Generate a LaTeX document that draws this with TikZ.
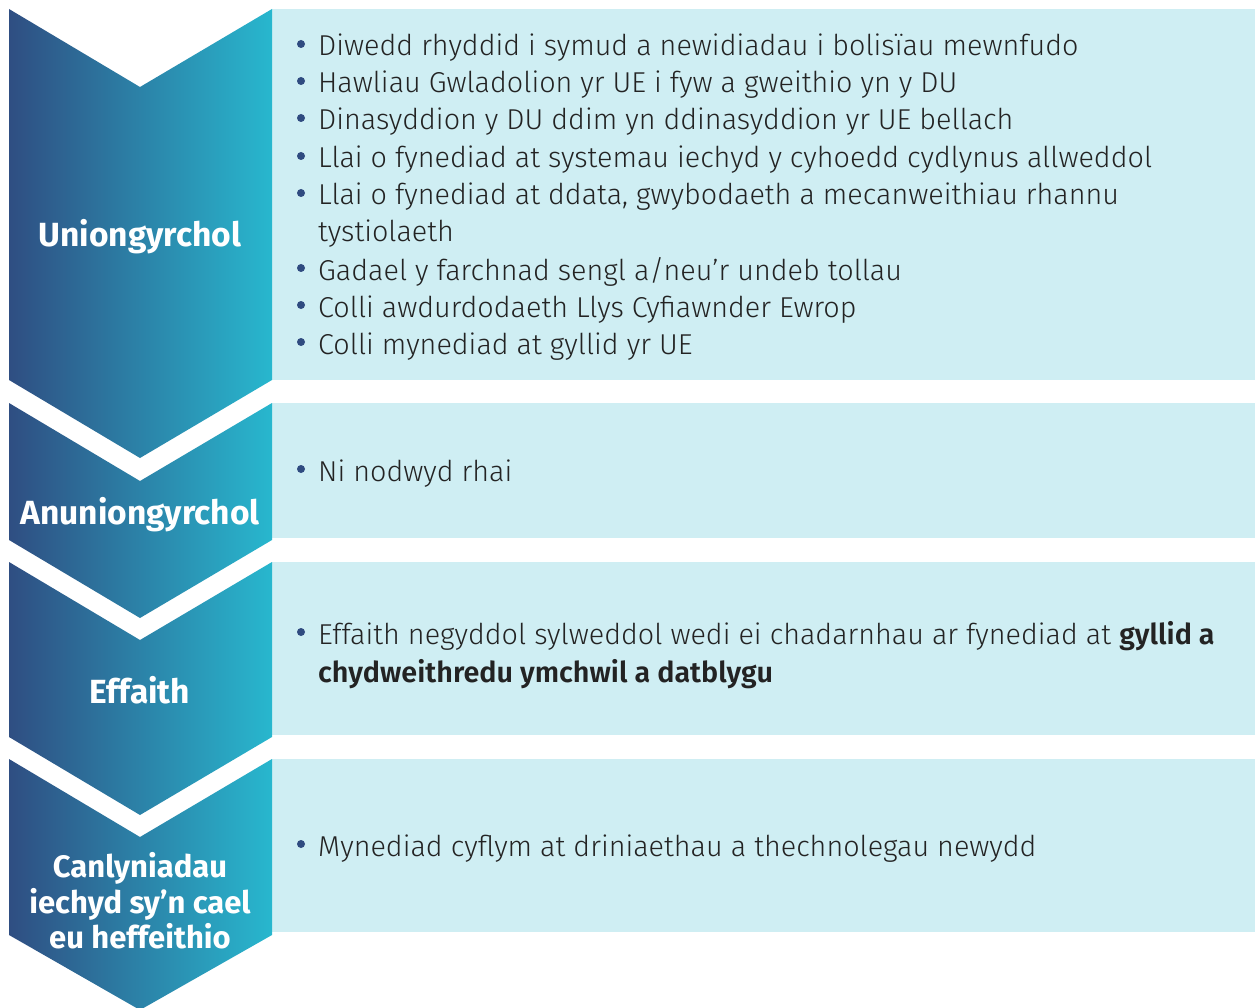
\documentclass[tikz,border=0pt]{standalone}
\usepackage{fontspec}
\setmainfont{Fira Sans Light}[BoldFont=Fira Sans SemiBold]
\newfontfamily\ttlfont{Fira Sans}
\definecolor{navy}{RGB}{47,78,130}
\definecolor{tealc}{RGB}{40,183,206}
\definecolor{pale}{RGB}{207,238,243}
\definecolor{ink}{RGB}{35,35,35}
\definecolor{bulc}{RGB}{47,75,128}
\begin{document}
\begin{tikzpicture}[x=1pt,y=-1pt,
  chev/.style={left color=navy,right color=tealc,draw=none},
  panel/.style={fill=pale,draw=none},
  ttl/.style={text=white,font=\ttlfont\fontsize{33.5}{35}\selectfont\bfseries,anchor=base,inner sep=0pt,align=center},
  body/.style={text=ink,font=\fontsize{28.75}{37}\selectfont,anchor=base west,inner sep=0pt},
  bul/.style={circle,fill=bulc,inner sep=0pt,minimum size=8pt}]
\useasboundingbox (0,0) rectangle (1255,1008);
\newcommand\bitem[3]{\node[bul] (b#1) at (301,#2-12) {};\node[body] (t#1) at (318,#2) {#3};}
% panels
\fill[panel] (272,9) rectangle (1255,380);
\fill[panel] (272,403) rectangle (1255,538);
\fill[panel] (272,562) rectangle (1255,735);
\fill[panel] (272,759) rectangle (1255,932);
% chevrons
\path[chev] (9,9) -- (140,87) -- (272,9) -- (272,380) -- (140,458) -- (9,380) -- cycle;
\path[chev] (9,403) -- (140,481) -- (272,403) -- (272,540) -- (140,618) -- (9,540) -- cycle;
\path[chev] (9,562) -- (140,640) -- (272,562) -- (272,737) -- (140,815) -- (9,737) -- cycle;
\path[chev] (9,759) -- (140,837) -- (272,759) -- (272,935) -- (140,1010) -- (9,935) -- cycle;
% titles
\node[ttl] (h1) at (140,247) {Uniongyrchol};
\node[ttl] (h2) at (140,524) {Anuniongyrchol};
\node[ttl] (h3) at (140,703) {Effaith};
\node[ttl,font=\ttlfont\fontsize{31}{35.5}\selectfont\bfseries] (h4a) at (140,877) {Canlyniadau};
\node[ttl,font=\ttlfont\fontsize{31}{35.5}\selectfont\bfseries] (h4b) at (140,913) {iechyd sy’n cael};
\node[ttl,font=\ttlfont\fontsize{31}{35.5}\selectfont\bfseries] (h4c) at (140,948) {eu heffeithio};
% panel 1
\bitem{1}{56}{Diwedd rhyddid i symud a newidiadau i bolisïau mewnfudo}
\bitem{2}{93}{Hawliau Gwladolion yr UE i fyw a gweithio yn y DU}
\bitem{3}{130}{Dinasyddion y DU ddim yn ddinasyddion yr UE bellach}
\bitem{4}{168}{Llai o fynediad at systemau iechyd y cyhoedd cydlynus allweddol}
\bitem{5}{205}{Llai o fynediad at ddata, gwybodaeth a mecanweithiau rhannu}
\node[body] (t5b) at (318,242) {tystiolaeth};
\bitem{6}{280}{Gadael y farchnad sengl a/neu’r undeb tollau}
\bitem{7}{317}{Colli awdurdodaeth Llys Cyfiawnder Ewrop}
\bitem{8}{354}{Colli mynediad at gyllid yr UE}
% panel 2
\bitem{9}{481}{Ni nodwyd rhai}
% panel 3
\bitem{10}{644}{Effaith negyddol sylweddol wedi ei chadarnhau ar fynediad at \textbf{gyllid a}}
\node[body] (t10b) at (318,682) {\textbf{chydweithredu ymchwil a datblygu}};
% panel 4
\bitem{11}{856}{Mynediad cyflym at driniaethau a thechnolegau newydd}
\end{tikzpicture}
\end{document}
